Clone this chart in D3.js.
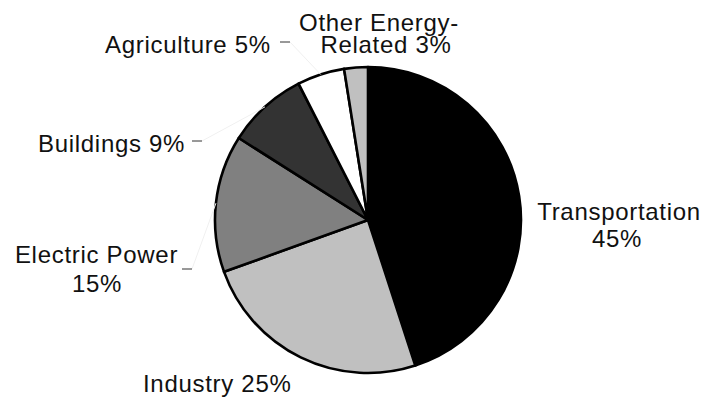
<!DOCTYPE html>
<html>
<head>
<meta charset="utf-8">
<script src="https://cdn.jsdelivr.net/npm/d3@7"></script>
<style>
  html, body { margin: 0; padding: 0; background: #fff; }
  svg text { font-family: "Liberation Sans", Arial, sans-serif; font-size: 24px; letter-spacing: 0.7px; fill: #111; }
</style>
</head>
<body>
<svg id="chart" width="715" height="397"></svg>
<script>
// Sector shares of emissions (percent), clockwise from 12 o'clock
const categories = ["Transportation", "Industry", "Electric Power", "Buildings", "Agriculture", "Other Energy-Related"];
const shares = [45, 24.5, 14.5, 8.5, 5, 2.5];
const fills = ["#000000", "#c0c0c0", "#808080", "#333333", "#ffffff", "#c0c0c0"];

// Label text lines for each sector ({p} is replaced by the rounded share)
const labelLines = [
  ["Transportation", "{p}%"],
  ["Industry {p}%"],
  ["Electric Power", "{p}%"],
  ["Buildings {p}%"],
  ["Agriculture {p}%"],
  ["Other Energy-", "Related {p}%"]
];

// Label placement: anchor, x, baselines, and optional short tick + leader
const labelLayout = [
  { anchor: "middle", x: [619, 617], y: [220, 247] },
  { anchor: "start", x: [143], y: [392] },
  { anchor: "middle", x: [96.5, 97], y: [263, 291.5], tick: [182, 269, 192, 269] },
  { anchor: "start", x: [38], y: [151.5], tick: [192, 141, 202, 141] },
  { anchor: "start", x: [105], y: [53], tick: [280, 42, 290, 42] },
  { anchor: "middle", x: [379, 386], y: [31, 53] }
];

const svg = d3.select("#chart");
const cx = 368, cy = 220, r = 153;

const pie = d3.pie().sort(null).value(d => d);
const arcs = pie(shares);
const arc = d3.arc().innerRadius(0).outerRadius(r);
const edge = d3.arc().innerRadius(r).outerRadius(r);

const g = svg.append("g").attr("transform", `translate(${cx},${cy})`);

// faint leader lines from ticks to slice edges
labelLayout.forEach((L, i) => {
  if (!L.tick) return;
  const [ex, ey] = edge.centroid(arcs[i]);
  svg.append("line")
    .attr("x1", L.tick[2]).attr("y1", L.tick[3])
    .attr("x2", cx + ex).attr("y2", cy + ey)
    .attr("stroke", "#f0f0f0").attr("stroke-width", 1);
});

g.selectAll("path.slice")
  .data(arcs)
  .join("path")
  .attr("class", "slice")
  .attr("d", arc)
  .attr("fill", (d, i) => fills[i])
  .attr("stroke", "#000")
  .attr("stroke-width", 2.6)
  .attr("stroke-linejoin", "round");

// labels
labelLayout.forEach((L, i) => {
  const pct = Math.round(shares[i]);
  const lines = labelLines[i].map(s => s.replace("{p}", pct));
  const t = svg.append("text")
    .attr("text-anchor", L.anchor);
  lines.forEach((s, k) => {
    t.append("tspan").attr("x", L.x[k]).attr("y", L.y[k]).text(s);
  });
  if (L.tick) {
    svg.append("line")
      .attr("x1", L.tick[0]).attr("y1", L.tick[1])
      .attr("x2", L.tick[2]).attr("y2", L.tick[3])
      .attr("stroke", "#333").attr("stroke-width", 1);
  }
});
</script>
</body>
</html>
